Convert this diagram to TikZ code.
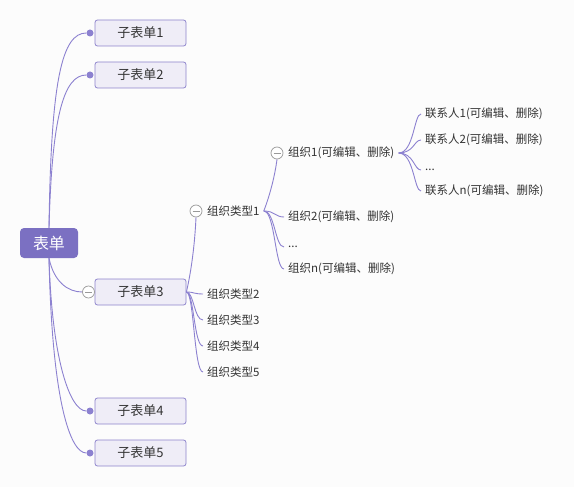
\documentclass[tikz,border=0pt]{standalone}
\usepackage{fontspec}
\setmainfont{Noto Sans CJK SC}
\definecolor{rootfill}{HTML}{7B70C2}
\definecolor{boxfill}{HTML}{EFEDF7}
\definecolor{boxline}{HTML}{8E84CC}
\definecolor{linkline}{HTML}{8C81D0}
\definecolor{pagebg}{HTML}{FCFCFC}
\definecolor{txt}{HTML}{333333}

\begin{document}
\begin{tikzpicture}[
    x=1pt, y=-1pt,
    root/.style={rectangle, rounded corners=4pt, fill=rootfill, text=white, minimum width=58pt, minimum height=30pt, inner sep=0pt, font=\fontsize{16}{18}\selectfont},
    subform/.style={rectangle, rounded corners=2.5pt, draw=boxline, fill=boxfill, line width=0.8pt, text=txt, minimum width=91pt, minimum height=26pt, inner sep=0pt, font=\fontsize{13}{15}\selectfont},
    dot/.style={circle, fill=linkline, minimum size=7pt, inner sep=0pt},
    fold/.style={circle, draw=gray!80, fill=white, line width=0.7pt, minimum size=12pt, inner sep=0pt,
        path picture={\draw[gray!80, line width=0.7pt] ([xshift=-3.5pt]path picture bounding box.center) -- ([xshift=3.5pt]path picture bounding box.center);}},
    leaf/.style={anchor=west, inner xsep=4pt, inner ysep=1pt, text=txt, font=\fontsize{11.5}{13}\selectfont},
    link/.style={draw=linkline, line width=0.9pt}
]
\fill[pagebg] (0,0) rectangle (574,487);
\useasboundingbox (0,0) rectangle (574,487);

% Nodes
\node[root]    (root) at (49,243)    {表单};
\node[subform] (s1)   at (140.5,33)  {子表单1};
\node[subform] (s2)   at (140.5,75)  {子表单2};
\node[subform] (s3)   at (140.5,292) {子表单3};
\node[subform] (s4)   at (140.5,411) {子表单4};
\node[subform] (s5)   at (140.5,453) {子表单5};

\node[dot]  (d1) at (90,33)  {};
\node[dot]  (d2) at (90,75)  {};
\node[dot]  (d4) at (90,411) {};
\node[dot]  (d5) at (90,453) {};
\node[fold] (c3) at (88.5,292) {};

\node[leaf] (t1) at (203,211) {组织类型1};
\node[leaf] (t2) at (203,294) {组织类型2};
\node[leaf] (t3) at (203,320) {组织类型3};
\node[leaf] (t4) at (203,346) {组织类型4};
\node[leaf] (t5) at (203,372) {组织类型5};
\node[fold] (c31) at (196,211) {};

\node[leaf] (o1) at (284,153) {组织1(可编辑、删除)};
\node[leaf] (o2) at (284,217) {组织2(可编辑、删除)};
\node[leaf] (o3) at (284,247) {...};
\node[leaf] (on) at (284,269) {组织n(可编辑、删除)};
\node[fold] (c311) at (277,153) {};

\node[leaf] (p1) at (421,114) {联系人1(可编辑、删除)};
\node[leaf] (p2) at (421,140) {联系人2(可编辑、删除)};
\node[leaf] (p3) at (421,170) {...};
\node[leaf] (pn) at (421,191) {联系人n(可编辑、删除)};

% Links
\draw[link] (root.north) .. controls (51,80) and (62,33) .. (d1);
\draw[link] (root.north) .. controls (52,115) and (64,75) .. (d2);
\draw[link] (root.south) .. controls (54,282) and (68,292) .. (c3.west);
\draw[link] (root.south) .. controls (52,360) and (70,411) .. (d4);
\draw[link] (root.south) .. controls (52,400) and (70,453) .. (d5);

\draw[link] (s3.east) .. controls (192,268) and (195,240) .. (c31.south);
\foreach \t in {t2,t3,t4,t5}
    \draw[link] (s3.east) .. controls (194,292) and (194,0 |- \t.west) .. (\t.west);

\draw[link] (t1.east) .. controls (270,195) and (275,175) .. (c311.south);
\foreach \o in {o2,o3,on}
    \draw[link] (t1.east) .. controls (275,211) and (275,0 |- \o.west) .. (\o.west);

\foreach \p in {p1,p2,p3,pn}
    \draw[link] (o1.east) .. controls (414,153) and (414,0 |- \p.west) .. (\p.west);

\end{tikzpicture}
\end{document}
